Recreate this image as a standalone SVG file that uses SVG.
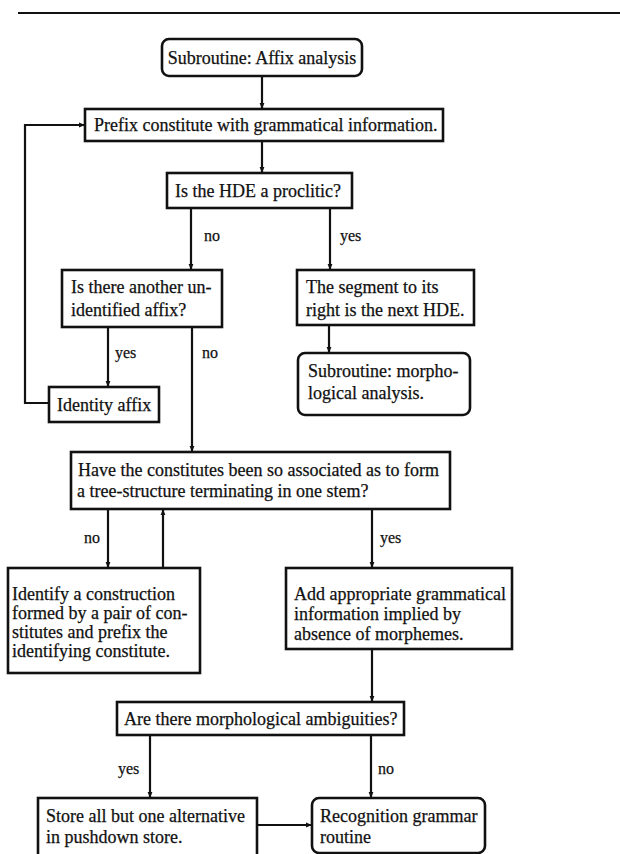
<svg xmlns="http://www.w3.org/2000/svg" width="620" height="854" viewBox="0 0 620 854">
  <style>
    text { font-family: "Liberation Serif", "Times New Roman", serif; font-size: 18px; fill: #111; stroke: #111; stroke-width: 0.25; }
    .box { fill: #fff; stroke: #111; stroke-width: 2.6; }
    .line { fill: none; stroke: #111; stroke-width: 2.2; }
    .lbl { font-size: 16px; }
  </style>
  <defs>
    <marker id="arrow" viewBox="0 0 10 10" refX="10" refY="5" markerWidth="6" markerHeight="6" orient="auto" markerUnits="userSpaceOnUse">
      <path d="M0,1 L10,5 L0,9 Z" fill="#111"/>
    </marker>
  </defs>

  <rect width="620" height="854" fill="#fff"/>
  <!-- page rule -->
  <line x1="18" y1="13" x2="620" y2="13" stroke="#111" stroke-width="2"/>

  <g id="start">
    <rect class="box" x="162" y="39" width="200" height="37" rx="7"/>
    <text x="262" y="64" text-anchor="middle">Subroutine: Affix analysis</text>
  </g>

  <g id="prefix">
    <rect class="box" x="85" y="109" width="358" height="32"/>
    <text x="94" y="131">Prefix constitute with grammatical information.</text>
  </g>

  <g id="proclitic">
    <rect class="box" x="167" y="173" width="185" height="35"/>
    <text x="175" y="197">Is the HDE a proclitic?</text>
  </g>

  <g id="another-affix">
    <rect class="box" x="62" y="270" width="160" height="57"/>
    <text x="71" y="293">Is there another un-</text>
    <text x="71" y="316">identified affix?</text>
  </g>

  <g id="segment">
    <rect class="box" x="297" y="270" width="177" height="55"/>
    <text x="306" y="293">The segment to its</text>
    <text x="306" y="316">right is the next HDE.</text>
  </g>

  <g id="morph-analysis">
    <rect class="box" x="298" y="353" width="172" height="62" rx="7"/>
    <text x="308" y="377">Subroutine: morpho-</text>
    <text x="308" y="399">logical analysis.</text>
  </g>

  <g id="identify-affix">
    <rect class="box" x="49" y="387" width="110" height="35"/>
    <text x="57" y="411">Identity affix</text>
  </g>

  <g id="tree-structure">
    <rect class="box" x="71" y="452" width="379" height="57"/>
    <text x="78" y="476">Have the constitutes been so associated as to form</text>
    <text x="77" y="497">a tree-structure terminating in one stem?</text>
  </g>

  <g id="construction">
    <rect class="box" x="8" y="568" width="192" height="105"/>
    <text x="12" y="600">Identify a construction</text>
    <text x="12" y="619">formed by a pair of con-</text>
    <text x="12" y="638">stitutes and prefix the</text>
    <text x="12" y="657">identifying constitute.</text>
  </g>

  <g id="add-info">
    <rect class="box" x="286" y="568" width="226" height="81"/>
    <text x="294" y="600">Add appropriate grammatical</text>
    <text x="294" y="620">information implied by</text>
    <text x="294" y="640">absence of morphemes.</text>
  </g>

  <g id="ambiguities">
    <rect class="box" x="117" y="702" width="287" height="33"/>
    <text x="124" y="725">Are there morphological ambiguities?</text>
  </g>

  <g id="pushdown">
    <rect class="box" x="38" y="798" width="219" height="62"/>
    <text x="46" y="822">Store all but one alternative</text>
    <text x="46" y="843">in pushdown store.</text>
  </g>

  <g id="recognition">
    <rect class="box" x="312" y="798" width="173" height="55" rx="7"/>
    <text x="320" y="822">Recognition grammar</text>
    <text x="320" y="843">routine</text>
  </g>

  <!-- connectors, drawn over the box edges so the heads stay visible -->
  <g id="connectors">
    <path class="line" d="M262,77 V109" marker-end="url(#arrow)"/>
    <path class="line" d="M262,142 V173" marker-end="url(#arrow)"/>
    <path class="line" d="M191,209 V270" marker-end="url(#arrow)"/>
    <path class="line" d="M330,209 V270" marker-end="url(#arrow)"/>
    <path class="line" d="M329,326 V353" marker-end="url(#arrow)"/>
    <path class="line" d="M108,328 V387" marker-end="url(#arrow)"/>
    <path class="line" d="M192,328 V452" marker-end="url(#arrow)"/>
    <path class="line" d="M48,403 H25 V125 H85" marker-end="url(#arrow)"/>
    <path class="line" d="M108,510 V568" marker-end="url(#arrow)"/>
    <path class="line" d="M163,567 V509" marker-end="url(#arrow)"/>
    <path class="line" d="M372,510 V568" marker-end="url(#arrow)"/>
    <path class="line" d="M372,650 V702" marker-end="url(#arrow)"/>
    <path class="line" d="M150,736 V798" marker-end="url(#arrow)"/>
    <path class="line" d="M371,736 V798" marker-end="url(#arrow)"/>
    <path class="line" d="M258,825 H312" marker-end="url(#arrow)"/>
    <text class="lbl" x="204" y="241">no</text>
    <text class="lbl" x="340" y="241">yes</text>
    <text class="lbl" x="115" y="358">yes</text>
    <text class="lbl" x="202" y="358">no</text>
    <text class="lbl" x="84" y="543">no</text>
    <text class="lbl" x="380" y="543">yes</text>
    <text class="lbl" x="118" y="774">yes</text>
    <text class="lbl" x="378" y="774">no</text>
  </g>
</svg>
